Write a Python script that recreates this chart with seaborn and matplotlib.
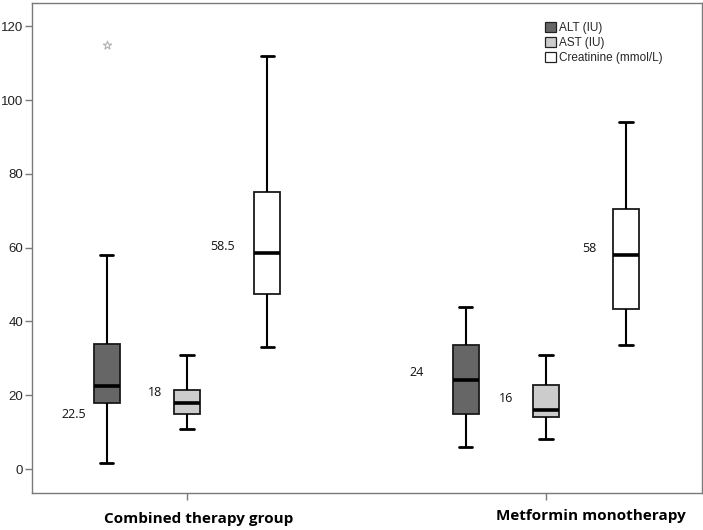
import numpy as np
import pandas as pd
import matplotlib
matplotlib.use("Agg")
import matplotlib.pyplot as plt
from matplotlib.patches import Patch
from matplotlib.transforms import ScaledTranslation
import seaborn as sns

# five-number summaries: [min whisker, Q1, median, Q3, max whisker]
groups = ['Combined therapy group', 'Metformin monotherapy']
measures = ['ALT (IU)', 'AST (IU)', 'Creatinine (mmol/L)']
alt_combined = [1.5, 17.8, 22.5, 34, 58]
ast_combined = [10.8, 14.8, 18, 21.4, 31]
cre_combined = [33, 47.5, 58.5, 75, 112]
alt_metformin = [6, 15, 24, 33.6, 44]
ast_metformin = [8, 14, 16, 22.8, 31]
cre_metformin = [33.5, 43.5, 58, 70.5, 94]
# extreme value (star) for ALT in the combined group
outlier_group = 'Combined therapy group'
outlier_measure = 'ALT (IU)'
outlier_value = 115
median_labels = ['22.5', '18', '58.5', '24', '16', '58']
box_colors = ['#666666', '#cccccc', '#ffffff']
y_ticks = [0, 20, 40, 60, 80, 100, 120]

summaries = {
    ('Combined therapy group', 'ALT (IU)'): alt_combined,
    ('Combined therapy group', 'AST (IU)'): ast_combined,
    ('Combined therapy group', 'Creatinine (mmol/L)'): cre_combined,
    ('Metformin monotherapy', 'ALT (IU)'): alt_metformin,
    ('Metformin monotherapy', 'AST (IU)'): ast_metformin,
    ('Metformin monotherapy', 'Creatinine (mmol/L)'): cre_metformin,
}
rows = []
for (g, m), vals in summaries.items():
    for v in vals:
        rows.append({'group': g, 'measure': m, 'value': v})
df = pd.DataFrame(rows)

sns.set_style('white')
plt.rcParams['font.family'] = ['Liberation Sans', 'DejaVu Sans']

fig = plt.figure(figsize=(7.03, 5.30), dpi=100)
ax = fig.add_axes([32 / 703, 1 - 493 / 530, 670 / 703, 490 / 530])

width = 0.67
sns.boxplot(data=df, x='group', y='value', hue='measure', order=groups,
            hue_order=measures, palette=box_colors, width=width, gap=0.67,
            linecolor='#1a1a1a', linewidth=1.3, showfliers=False,
            whis=np.inf, saturation=1,
            medianprops={'linewidth': 2.6, 'color': 'black'},
            whiskerprops={'linewidth': 1.5, 'color': 'black'},
            capprops={'linewidth': 2.0, 'color': 'black'},
            legend=False, ax=ax)

slot = width / len(measures)


def box_x(g, m):
    return groups.index(g) + (measures.index(m) - (len(measures) - 1) / 2) * slot


# outlier star
ax.scatter([box_x(outlier_group, outlier_measure)], [outlier_value], marker='*',
           s=40, facecolor='white', edgecolor='#b0b0b0', linewidth=0.8, zorder=5)

# median labels (offsets: value units up, pixels left of box centre)
label_dy = [-7.6, 2.7, 1.9, 2.1, 3.2, 1.9]
label_dx = [-20.7, -24.7, -32.7, -42, -32.3, -30]
for i, ((g, m), vals) in enumerate(summaries.items()):
    ax.annotate(median_labels[i], xy=(box_x(g, m), vals[2] + label_dy[i]),
                xytext=(label_dx[i] * 0.72, 0), textcoords='offset points',
                ha='right', va='center', fontsize=9, family=['Open Sans', 'DejaVu Sans'],
                color='#111111')

ax.set_xlim(-0.432, 1.435)
ax.set_ylim(-6.5, 126.3)
ax.set_yticks(y_ticks)
ax.set_xlabel('')
ax.set_ylabel('')
for s in ax.spines.values():
    s.set_color('#7a7a7a')
    s.set_linewidth(1.0)
ax.tick_params(axis='both', direction='out', length=5, width=1, color='#7a7a7a',
               labelcolor='#222222', left=True, bottom=True)
ax.tick_params(axis='y', labelsize=9.5, pad=1.5)
ax.tick_params(axis='x', pad=10)
ax.set_xticks(range(len(groups)))
ax.set_xticklabels(groups, fontsize=11, fontweight='bold', family=['Open Sans', 'DejaVu Sans'],
                   color='black')
for lbl, (dx, dy) in zip(ax.get_xticklabels(), [(11.5, 2), (45, 5)]):
    lbl.set_transform(lbl.get_transform() + ScaledTranslation(dx / 100, dy / 100, fig.dpi_scale_trans))

handles = [Patch(facecolor=c, edgecolor='#222222', linewidth=0.9, label=m)
           for c, m in zip(box_colors, measures)]
ax.legend(handles=handles, loc='upper left', bbox_to_anchor=(545 / 703, 1 - 22 / 530),
          bbox_transform=fig.transFigure, frameon=False, fontsize=8.5,
          handlelength=0.95, handleheight=0.95, handletextpad=0.25,
          labelspacing=0.25, borderpad=0, borderaxespad=0)

fig.savefig('out.png', dpi=100)
